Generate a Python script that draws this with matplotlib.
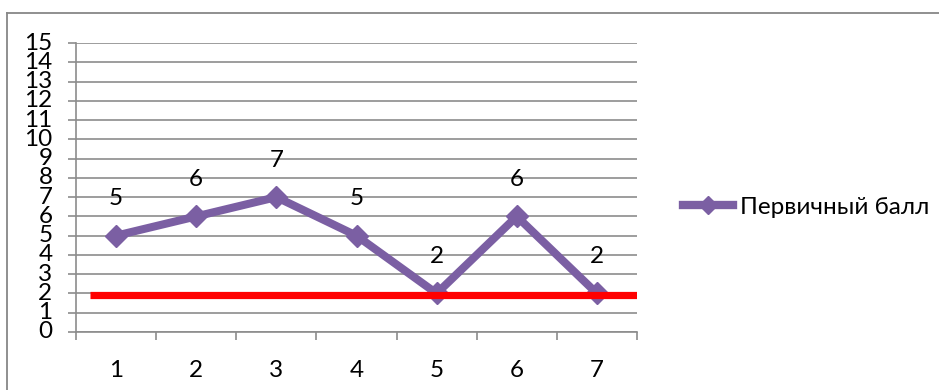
import matplotlib
matplotlib.use("Agg")
import matplotlib.pyplot as plt
from matplotlib.lines import Line2D

plt.rcParams['font.family'] = ['Lato', 'DejaVu Sans']

categories = ['1', '2', '3', '4', '5', '6', '7']
scores = [5, 6, 7, 5, 2, 6, 2]
series_name = 'Первичный балл'
threshold = 1.9
threshold_start = 0.675

purple = '#7B5FA3'
grid_c = '#8C8C8C'
fs = 17.5

fig = plt.figure(figsize=(9.39, 3.9), dpi=100)
ax = fig.add_axes([76/939, 1-332/390, (637-76)/939, (332-43)/390])

x = list(range(1, len(categories)+1))
ax.plot(x, scores, color=purple, lw=5.8, marker='D', ms=11.5,
        markerfacecolor=purple, markeredgecolor=purple, zorder=3,
        solid_joinstyle='miter')
for xi, v in zip(x, scores):
    ax.annotate(str(v), (xi, v), xytext=(0, 26.5), textcoords='offset points',
                ha='center', va='center', fontsize=fs, color='black')

ax.plot([threshold_start, len(categories)+0.5], [threshold, threshold],
        color='#FF0000', lw=5.2, solid_capstyle='butt', zorder=4)

ax.set_xlim(0.5, len(categories)+0.5)
ax.set_ylim(0, 15)
ax.set_yticks(range(0, 16))
ax.set_yticklabels([str(i) for i in range(16)])
ax.set_xticks(x)
ax.set_xticklabels(categories)
ax.set_xticks([i+0.5 for i in range(0, len(categories)+1)], minor=True)
ax.tick_params(axis='x', which='major', length=0, pad=20, labelsize=fs)
ax.tick_params(axis='x', which='minor', length=6, width=1.2, color=grid_c, direction='out')
ax.tick_params(axis='y', length=6, width=1.2, color=grid_c, pad=11, labelsize=fs)
for lbl in ax.get_yticklabels():
    lbl.set_va('center')
ax.yaxis.grid(True, color=grid_c, lw=1.2)
ax.set_axisbelow(True)
for s in ['top', 'right']:
    ax.spines[s].set_visible(False)
for s in ['left', 'bottom']:
    ax.spines[s].set_color(grid_c)
    ax.spines[s].set_linewidth(1.2)

handle = Line2D([], [], color=purple, lw=6, marker='D', ms=9.5,
                markerfacecolor=purple, markeredgecolor=purple)
fig.legend([handle], [series_name], loc='center left',
           bbox_to_anchor=(661/939, 1-207/390), frameon=False,
           fontsize=fs, handlelength=2.05, handletextpad=0.3)

# outer border
fig.add_artist(Line2D([7/939, 7/939], [0, 1-13/390], transform=fig.transFigure,
                      color='#878787', lw=1.3))
fig.add_artist(Line2D([7/939, 1], [1-13/390, 1-13/390], transform=fig.transFigure,
                      color='#878787', lw=1.3))

fig.savefig('out.png', dpi=100)
